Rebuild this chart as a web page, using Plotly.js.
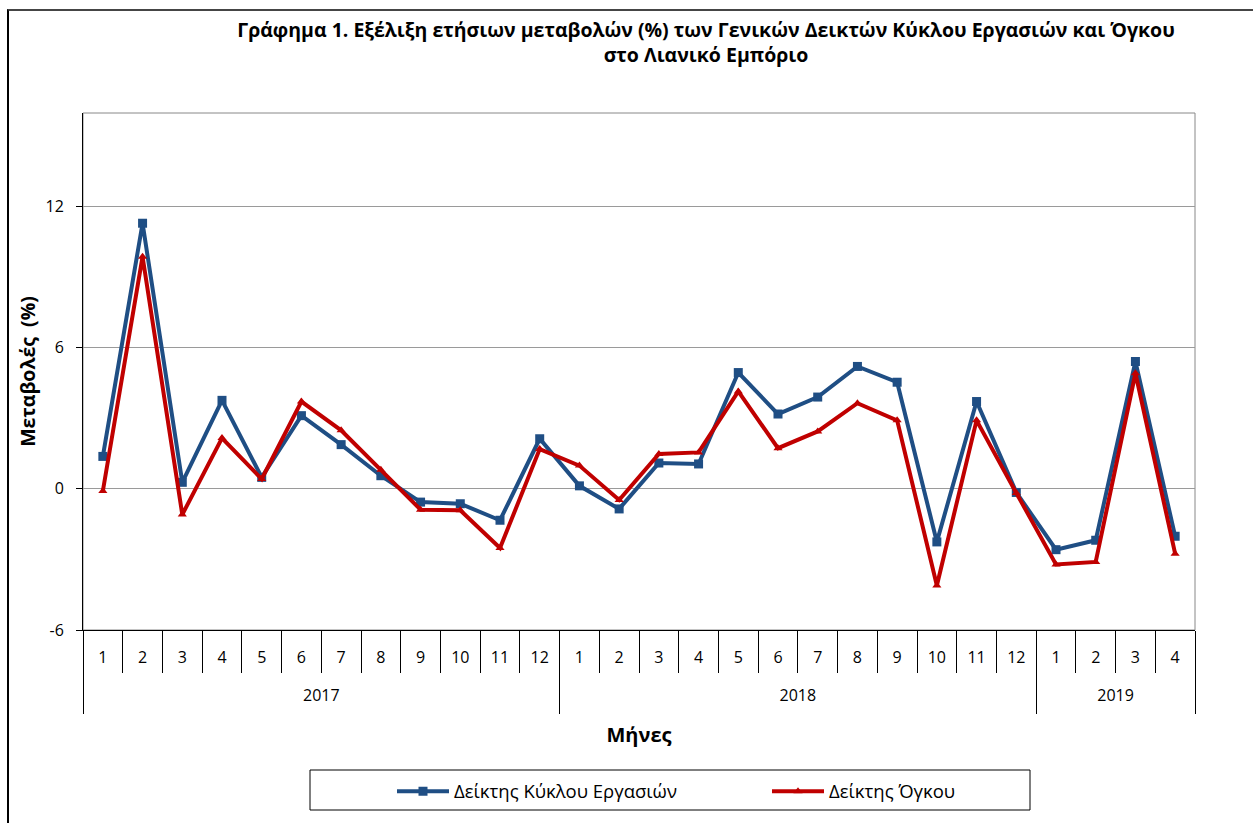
<!DOCTYPE html>
<html>
<head>
<meta charset="utf-8">
<script src="https://cdn.plot.ly/plotly-3.0.1.min.js"></script>
<style>
  body { margin: 0; background: #fff; }
  #wrap { position: relative; width: 1253px; height: 823px; overflow: hidden; }
  #chart { position: absolute; left: 0; top: 0; width: 1253px; height: 823px; }
  #frame { position: absolute; left: 7px; top: 9px; width: 1300px; height: 900px;
           border-top: 2px solid #454545; border-left: 2px solid #000; pointer-events: none; }
</style>
</head>
<body>
<div id="wrap">
  <div id="chart"></div>
  <div id="frame"></div>
</div>
<script>
// Data
const years  = ['2017','2017','2017','2017','2017','2017','2017','2017','2017','2017','2017','2017',
                '2018','2018','2018','2018','2018','2018','2018','2018','2018','2018','2018','2018',
                '2019','2019','2019','2019'];
const months = ['1','2','3','4','5','6','7','8','9','10','11','12',
                '1','2','3','4','5','6','7','8','9','10','11','12',
                '1','2','3','4'];
const turnoverIndex = [1.37, 11.27, 0.27, 3.75, 0.48, 3.10, 1.87, 0.55, -0.57, -0.64, -1.34, 2.12,
                       0.12, -0.86, 1.09, 1.05, 4.93, 3.17, 3.89, 5.19, 4.52, -2.26, 3.70, -0.16,
                       -2.59, -2.19, 5.40, -2.02];
const volumeIndex   = [-0.10, 9.85, -1.10, 2.15, 0.41, 3.70, 2.48, 0.80, -0.89, -0.92, -2.52, 1.68,
                       0.98, -0.48, 1.47, 1.54, 4.13, 1.72, 2.43, 3.63, 2.90, -4.11, 2.90, -0.18,
                       -3.22, -3.11, 4.90, -2.76];
const seriesNames = ['Δείκτης Κύκλου Εργασιών', 'Δείκτης Όγκου'];
const yTicks = [-6, 0, 6, 12];

const FONT = '"Open Sans", sans-serif';

// category positions (index) and derived group info
const xIdx = months.map((_, i) => i);
const monthBounds = months.map((_, i) => i - 0.5).concat([months.length - 0.5]);
const yearNames = [...new Set(years)];
const yearFirst = yearNames.map(y => years.indexOf(y));
const yearLast = yearNames.map(y => years.lastIndexOf(y));
const yearCenters = yearNames.map((_, k) => (yearFirst[k] + yearLast[k]) / 2);
const yearBounds = yearFirst.map(i => i - 0.5).concat([months.length - 0.5]);
const xRange = [-0.5, months.length - 0.5];

const traces = [
  {
    x: xIdx, y: turnoverIndex, type: 'scatter', mode: 'lines+markers',
    name: seriesNames[0],
    line: { color: '#1F4E84', width: 4 },
    marker: { symbol: 'square', size: 9, color: '#1F4E84' }
  },
  {
    x: xIdx, y: volumeIndex, type: 'scatter', mode: 'lines+markers',
    name: seriesNames[1],
    line: { color: '#C00000', width: 4 },
    marker: { symbol: 'triangle-up', size: 8, color: '#C00000' }
  },
  // carrier for the year axis (draws nothing)
  {
    x: yearCenters, y: yearCenters.map(() => null), xaxis: 'x2', yaxis: 'y',
    type: 'scatter', mode: 'markers', showlegend: false, hoverinfo: 'skip'
  }
];

const layout = {
  width: 1253, height: 823,
  margin: { l: 83, r: 58, t: 113, b: 193 },
  paper_bgcolor: '#fff', plot_bgcolor: '#fff',
  font: { family: FONT, size: 15, color: '#000' },
  showlegend: true,
  title: {
    text: '<b>Γράφημα 1. Εξέλιξη ετήσιων μεταβολών (%) των Γενικών Δεικτών Κύκλου Εργασιών και Όγκου<br>στο Λιανικό Εμπόριο</b>',
    font: { family: FONT, size: 19.5, color: '#000' },
    x: (706 - 83) / 1112, xref: 'paper', xanchor: 'center',
    y: 1 - 37 / 823, yanchor: 'top'
  },
  xaxis: {
    range: xRange,
    tickmode: 'array', tickvals: xIdx, ticktext: months,
    ticks: '', ticklabelstandoff: 13,
    showgrid: false, zeroline: false,
    showline: true, linecolor: '#000', linewidth: 1,
    tickfont: { family: FONT, size: 16, color: '#000' },
    minor: { tickmode: 'array', tickvals: monthBounds, ticks: 'outside', ticklen: 42,
             tickcolor: '#000', tickwidth: 1, showgrid: false },
    fixedrange: true
  },
  xaxis2: {
    overlaying: 'x', anchor: 'y', side: 'bottom',
    range: xRange,
    tickmode: 'array', tickvals: yearCenters, ticktext: yearNames,
    ticks: '', ticklabelstandoff: 54,
    showgrid: false, zeroline: false, showline: false,
    tickfont: { family: FONT, size: 16, color: '#000' },
    minor: { tickmode: 'array', tickvals: yearBounds, ticks: 'outside', ticklen: 83,
             tickcolor: '#000', tickwidth: 1, showgrid: false },
    title: { text: '<b>Μήνες</b>', font: { family: FONT, size: 20, color: '#000' }, standoff: 22 },
    fixedrange: true
  },
  yaxis: {
    range: [-6, 15.95],
    tickvals: yTicks, ticktext: yTicks.map(String),
    showgrid: true, gridcolor: '#9a9a9a', gridwidth: 1,
    zeroline: false,
    showline: true, linecolor: '#000', linewidth: 1,
    ticks: 'outside', ticklen: 6, tickcolor: '#000', ticklabelstandoff: 9,
    tickfont: { family: FONT, size: 16, color: '#000' },
    title: { text: '<b>Μεταβολές  (%)</b>', font: { family: FONT, size: 19.5, color: '#000' }, standoff: 4 },
    fixedrange: true
  },
  legend: {
    orientation: 'h', x: (392 - 83) / 1112, xanchor: 'left', y: -0.276, yanchor: 'top',
    font: { family: FONT, size: 18.5, color: '#000' },
    bgcolor: 'rgba(0,0,0,0)', borderwidth: 0,
    entrywidth: 308, entrywidthmode: 'pixels', itemwidth: 52
  },
  shapes: [
    { type: 'rect', xref: 'paper', yref: 'paper', x0: 0, x1: 1, y0: 0, y1: 1,
      line: { color: '#888', width: 1 }, layer: 'below' },
    { type: 'rect', xref: 'paper', yref: 'paper',
      x0: (310 - 83) / 1112, x1: (1030 - 83) / 1112,
      y0: (630 - 810) / 517, y1: (630 - 770) / 517,
      line: { color: '#000', width: 1 }, layer: 'below' }
  ]
};

Plotly.newPlot('chart', traces, layout, { displayModeBar: false, staticPlot: true });
</script>
</body>
</html>
